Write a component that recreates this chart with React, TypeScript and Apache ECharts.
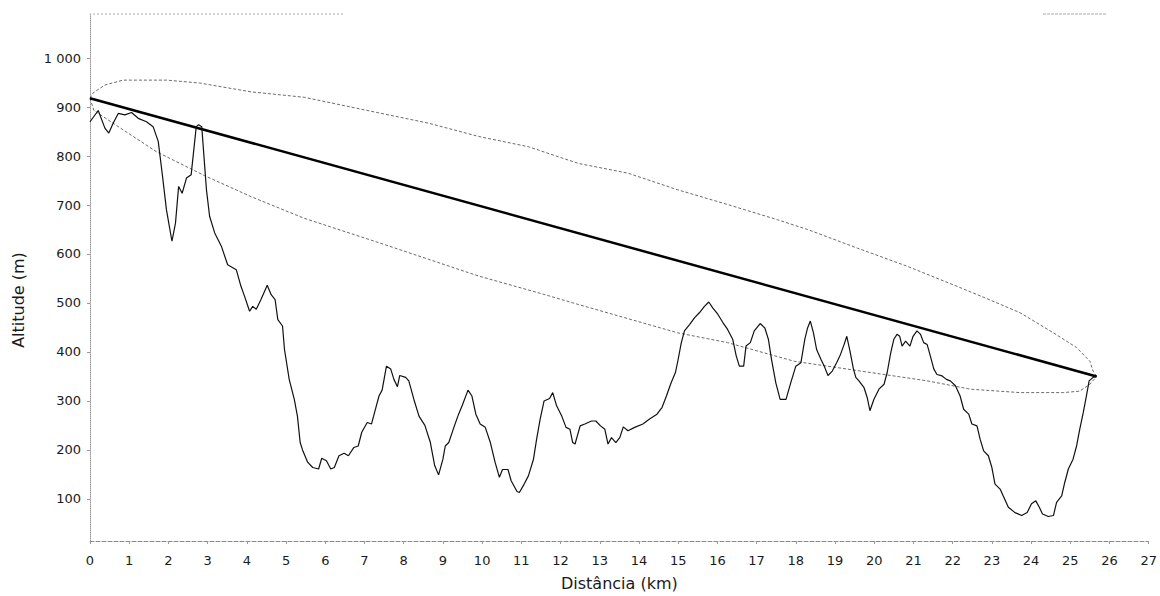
import { useEffect, useRef } from "react";
import * as echarts from "echarts";

// Terrain profile (distance km, altitude m)
const distanceKm = [
  0.0, 0.21, 0.38, 0.48, 0.59, 0.72, 0.89, 1.06, 1.23, 1.44, 1.61, 1.74, 1.84, 1.95, 2.09, 2.18, 2.26, 2.35, 2.46, 2.58,
  2.71, 2.77, 2.85, 2.9, 2.97, 3.05, 3.18, 3.35, 3.51, 3.73, 3.85, 3.94, 4.07, 4.15, 4.24, 4.36, 4.52, 4.62, 4.72, 4.79,
  4.91, 4.96, 5.08, 5.21, 5.29, 5.36, 5.42, 5.55, 5.68, 5.83, 5.91, 6.03, 6.14, 6.23, 6.35, 6.48, 6.59, 6.73, 6.84, 6.93,
  7.07, 7.18, 7.27, 7.37, 7.45, 7.56, 7.67, 7.75, 7.84, 7.9, 8.05, 8.13, 8.26, 8.39, 8.54, 8.68, 8.79, 8.89, 9.0, 9.06,
  9.15, 9.28, 9.4, 9.49, 9.64, 9.74, 9.84, 9.95, 10.08, 10.21, 10.33, 10.44, 10.52, 10.66, 10.74, 10.89, 10.95, 11.05, 11.18, 11.31,
  11.39, 11.48, 11.58, 11.72, 11.8, 11.9, 12.03, 12.14, 12.24, 12.31, 12.37, 12.5, 12.62, 12.79, 12.9, 13.02, 13.13, 13.21, 13.3, 13.41,
  13.51, 13.6, 13.72, 13.89, 14.1, 14.27, 14.46, 14.59, 14.7, 14.82, 14.93, 14.99, 15.08, 15.16, 15.29, 15.42, 15.54, 15.67, 15.78, 15.88,
  16.01, 16.14, 16.26, 16.39, 16.48, 16.56, 16.67, 16.73, 16.84, 16.94, 17.09, 17.21, 17.3, 17.38, 17.49, 17.6, 17.75, 17.87, 18.0, 18.13,
  18.23, 18.3, 18.37, 18.45, 18.53, 18.64, 18.74, 18.82, 18.93, 19.04, 19.14, 19.23, 19.3, 19.38, 19.47, 19.53, 19.61, 19.74, 19.82, 19.89,
  19.99, 20.12, 20.25, 20.33, 20.42, 20.5, 20.58, 20.65, 20.71, 20.8, 20.91, 20.99, 21.09, 21.18, 21.26, 21.35, 21.43, 21.52, 21.6, 21.73,
  21.84, 21.94, 22.07, 22.19, 22.28, 22.41, 22.49, 22.62, 22.7, 22.79, 22.91, 23.0, 23.08, 23.21, 23.29, 23.42, 23.59, 23.76, 23.9, 24.01,
  24.12, 24.21, 24.29, 24.44, 24.57, 24.65, 24.78, 24.86, 24.95, 25.07, 25.16, 25.24, 25.33, 25.41, 25.48, 25.58, 25.67,
];
const altitudeM = [
  870, 893, 857, 847, 867, 887, 884, 889, 877, 870, 860, 830, 765, 690, 626, 663, 738, 724, 755, 762,
  860, 864, 860, 806, 731, 677, 643, 616, 578, 568, 534, 514, 483, 493, 487, 507, 536, 517, 507, 466,
  453, 405, 344, 303, 269, 215, 200, 175, 164, 161, 183, 178, 161, 164, 188, 193, 188, 205, 208, 236,
  256, 253, 280, 310, 322, 371, 365, 344, 329, 352, 348, 341, 303, 269, 250, 215, 168, 149, 181, 208,
  215, 246, 273, 290, 322, 310, 273, 253, 246, 215, 175, 144, 160, 160, 137, 115, 113, 127, 147, 181,
  222, 263, 300, 305, 317, 290, 269, 246, 242, 215, 212, 249, 253, 259, 259, 249, 242, 212, 225, 215,
  225, 247, 239, 246, 253, 263, 273, 287, 310, 337, 358, 381, 419, 443, 456, 470, 480, 493, 502, 490,
  477, 460, 446, 426, 392, 371, 371, 412, 419, 443, 458, 449, 426, 385, 337, 303, 303, 337, 371, 378,
  426, 449, 463, 439, 405, 385, 368, 352, 361, 378, 395, 415, 432, 402, 365, 348, 341, 327, 307, 280,
  303, 324, 334, 358, 398, 426, 436, 432, 412, 422, 412, 432, 443, 436, 419, 415, 392, 365, 354, 351,
  344, 341, 331, 310, 283, 273, 253, 249, 222, 198, 188, 164, 130, 120, 106, 83, 72, 66, 72, 90,
  96, 83, 69, 64, 66, 93, 106, 134, 161, 181, 208, 242, 276, 310, 341, 348, 350,
];

// Line of sight
const losKm = [0, 25.67];
const losAlt = [918, 350];

// Fresnel ellipse, upper and lower arcs
const upperKm = [0, 0.08, 0.38, 0.84, 1.96, 2.8, 4.11, 5.46, 7.37, 8.64, 9.91, 11.18, 12.45, 13.72, 14.99, 16.26, 17.53, 18.3, 19.57, 20.84, 22.11, 22.87, 23.72, 24.57, 25.16, 25.5, 25.58, 25.67];
const upperAlt = [918, 929, 945, 955, 955, 949, 931, 920, 888, 867, 840, 819, 785, 765, 731, 701, 670, 650, 612, 575, 534, 509, 480, 439, 409, 381, 361, 350];
const lowerKm = [0, 0.1, 0.72, 1.69, 2.92, 4.11, 5.46, 7.37, 8.64, 9.91, 11.6, 12.45, 14.99, 16.26, 17.96, 19.65, 21.35, 22.45, 23.72, 24.82, 25.24, 25.5, 25.67];
const lowerAlt = [918, 893, 860, 809, 760, 717, 673, 623, 589, 555, 517, 497, 439, 419, 381, 361, 341, 324, 317, 317, 320, 334, 350];

const yTicks = [100, 200, 300, 400, 500, 600, 700, 800, 900, 1000];
const xMin = 0;
const xMax = 27;
const yMin = 14;
const yMax = 1090;

const zip = (xs: number[], ys: number[]) => xs.map((x, i) => [x, ys[i]]);
const FONT = "DejaVu Sans";

export default function App() {
  const ref = useRef<HTMLDivElement>(null);
  useEffect(() => {
    const chart = echarts.init(ref.current!, null, { renderer: "svg" });
    chart.setOption({
      animation: false,
      backgroundColor: "#ffffff",
      grid: { left: 90, right: 7, top: 14, bottom: 54 },
      xAxis: {
        type: "value",
        min: xMin,
        max: xMax,
        interval: 1,
        name: "Distância (km)",
        nameLocation: "middle",
        nameGap: 34,
        nameTextStyle: { fontFamily: FONT, fontSize: 16, color: "#1a1a1a" },
        axisLine: { show: true, lineStyle: { color: "#888", type: "dashed", width: 1 } },
        axisTick: { show: true, length: 3, lineStyle: { color: "#999" } },
        axisLabel: { margin: 13, fontFamily: FONT, fontSize: 13, color: "#1a1a1a" },
        splitLine: { show: false },
      },
      yAxis: {
        type: "value",
        min: yMin,
        max: yMax,
        axisLine: { show: true, lineStyle: { color: "#999", type: "dotted", width: 1 } },
        axisTick: { show: true, length: 3, customValues: yTicks, lineStyle: { color: "#999" } },
        axisLabel: {
          customValues: yTicks,
          margin: 9,
          fontFamily: FONT,
          fontSize: 13,
          color: "#1a1a1a",
          formatter: (v: number) => String(v).replace(/\B(?=(\d{3})+(?!\d))/g, " "),
        },
        splitLine: { show: false },
      },
      graphic: [
        {
          type: "text",
          x: 18,
          y: 300,
          rotation: Math.PI / 2,
          style: {
            text: "Altitude (m)",
            fontFamily: FONT,
            fontSize: 16,
            fill: "#1a1a1a",
            align: "center",
            verticalAlign: "middle",
          },
        },
        { type: "line", shape: { x1: 93, y1: 14, x2: 345, y2: 14 }, style: { stroke: "#aaa", lineWidth: 1, lineDash: [2, 2] } },
        { type: "line", shape: { x1: 1043, y1: 14, x2: 1107, y2: 14 }, style: { stroke: "#aaa", lineWidth: 1, lineDash: [3, 1] } },
      ],
      series: [
        {
          name: "ellipse-upper",
          type: "line",
          data: zip(upperKm, upperAlt),
          showSymbol: false,
          lineStyle: { color: "#6a6a6a", width: 1, type: [3, 2] },
          z: 2,
        },
        {
          name: "ellipse-lower",
          type: "line",
          data: zip(lowerKm, lowerAlt),
          showSymbol: false,
          lineStyle: { color: "#6a6a6a", width: 1, type: [3, 2] },
          z: 2,
        },
        {
          name: "line-of-sight",
          type: "line",
          data: zip(losKm, losAlt),
          showSymbol: false,
          lineStyle: { color: "#000", width: 2.5 },
          z: 3,
        },
        {
          name: "profile",
          type: "line",
          data: zip(distanceKm, altitudeM),
          showSymbol: false,
          lineStyle: { color: "#111", width: 1.2 },
          z: 4,
        },
      ],
    });
    return () => chart.dispose();
  }, []);
  return <div ref={ref} style={{ position: "fixed", left: 0, top: 0, width: 1160, height: 596 }} />;
}
